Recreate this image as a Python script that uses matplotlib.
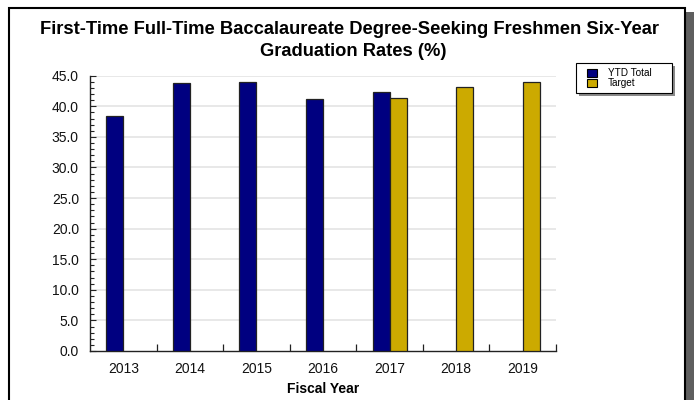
import matplotlib
matplotlib.use("Agg")
import matplotlib.pyplot as plt
from matplotlib.patches import Rectangle
from matplotlib.ticker import MultipleLocator, FixedLocator
import numpy as np

plt.rcParams['font.family'] = ['Liberation Sans', 'DejaVu Sans']

years = ["2013", "2014", "2015", "2016", "2017", "2018", "2019"]
ytd_total = [38.4, 43.8, 44.0, 41.2, 42.3, np.nan, np.nan]
target = [np.nan, np.nan, np.nan, np.nan, 41.3, 43.1, 44.0]
yticks = [0, 5, 10, 15, 20, 25, 30, 35, 40, 45]
series_names = ["YTD Total", "Target"]
series_colors = ["#000080", "#CCAA00"]

W, H = 694, 400
fig = plt.figure(figsize=(W / 100, H / 100), dpi=100)

def fr(x0, y0, w, h, **kw):
    """rectangle in pixel coords (top-left origin)"""
    r = Rectangle((x0 / W, 1 - (y0 + h) / H), w / W, h / H, transform=fig.transFigure, **kw)
    fig.patches.append(r)
    return r

# frame + shadow
fr(686, 12, 8, 400, facecolor="#5f5f5f", edgecolor="none", zorder=0)
fr(8.5, 7.5, 676.5, 420, facecolor="white", edgecolor="black", linewidth=1.5, zorder=1)

ax = fig.add_axes([90 / W, 1 - 351 / H, (556 - 90) / W, (351 - 75.7) / H])
ax.set_zorder(2)
x = np.arange(len(years))
bw = 0.255
ax.bar(x - bw / 2, ytd_total, width=bw, color=series_colors[0], edgecolor="#222222", linewidth=0.9,
       label=series_names[0], zorder=3)
ax.bar(x + bw / 2, target, width=bw, color=series_colors[1], edgecolor="#222222", linewidth=0.9,
       label=series_names[1], zorder=3)

ax.set_xlim(-0.5, len(years) - 0.5)
ax.set_ylim(0, 45)
ax.set_yticks(yticks)
ax.set_yticklabels([f"{v:.1f}" for v in yticks])
ax.yaxis.set_minor_locator(MultipleLocator(1))
ax.set_xticks(x)
ax.set_xticklabels(years)
ax.xaxis.set_minor_locator(FixedLocator(np.arange(0.5, len(years), 1.0)))

for v in yticks[1:]:
    ax.axhline(v, color="#e6e6e6", linewidth=1.3, zorder=1)

ax.spines['top'].set_visible(False)
ax.spines['right'].set_visible(False)
for s in ('left', 'bottom'):
    ax.spines[s].set_linewidth(1.0)
    ax.spines[s].set_color("#222222")

ax.tick_params(axis='y', which='major', direction='in', length=4, width=0.8, labelsize=10,
               pad=8, colors="#222222", labelcolor="#111111")
ax.tick_params(axis='y', which='minor', direction='in', length=3, width=0.8, colors="#222222")
ax.tick_params(axis='x', which='major', length=0, labelsize=10, pad=8, labelcolor="#111111")
ax.tick_params(axis='x', which='minor', direction='in', length=5, width=0.9, colors="#222222")

ax.set_xlabel("Fiscal Year", fontsize=10, fontweight='bold', labelpad=4)

fig.text(350 / W, 1 - 30 / H, "First-Time Full-Time Baccalaureate Degree-Seeking Freshmen Six-Year",
         ha='center', va='center', fontsize=13.2, fontweight='bold', zorder=5)
fig.text(353 / W, 1 - 52 / H, "Graduation Rates (%)",
         ha='center', va='center', fontsize=13.2, fontweight='bold', zorder=5)

# legend box (drawn manually to match the original's proportions)
fr(579, 66, 96, 30, facecolor="#8a8a8a", edgecolor="none", zorder=5)
fr(576, 63, 96, 30, facecolor="white", edgecolor="black", linewidth=0.8, zorder=6)
for i, (name, col) in enumerate(zip(series_names, series_colors)):
    y0 = 68.5 + i * 10
    fr(587, y0, 10, 8, facecolor=col, edgecolor="black", linewidth=0.8, zorder=7)
    fig.text(608 / W, 1 - (y0 + 4.5) / H, name, ha='left', va='center', fontsize=7.2,
             family=['Liberation Sans Narrow', 'Liberation Sans', 'DejaVu Sans'], zorder=8)

fig.savefig("out.png", dpi=100)
